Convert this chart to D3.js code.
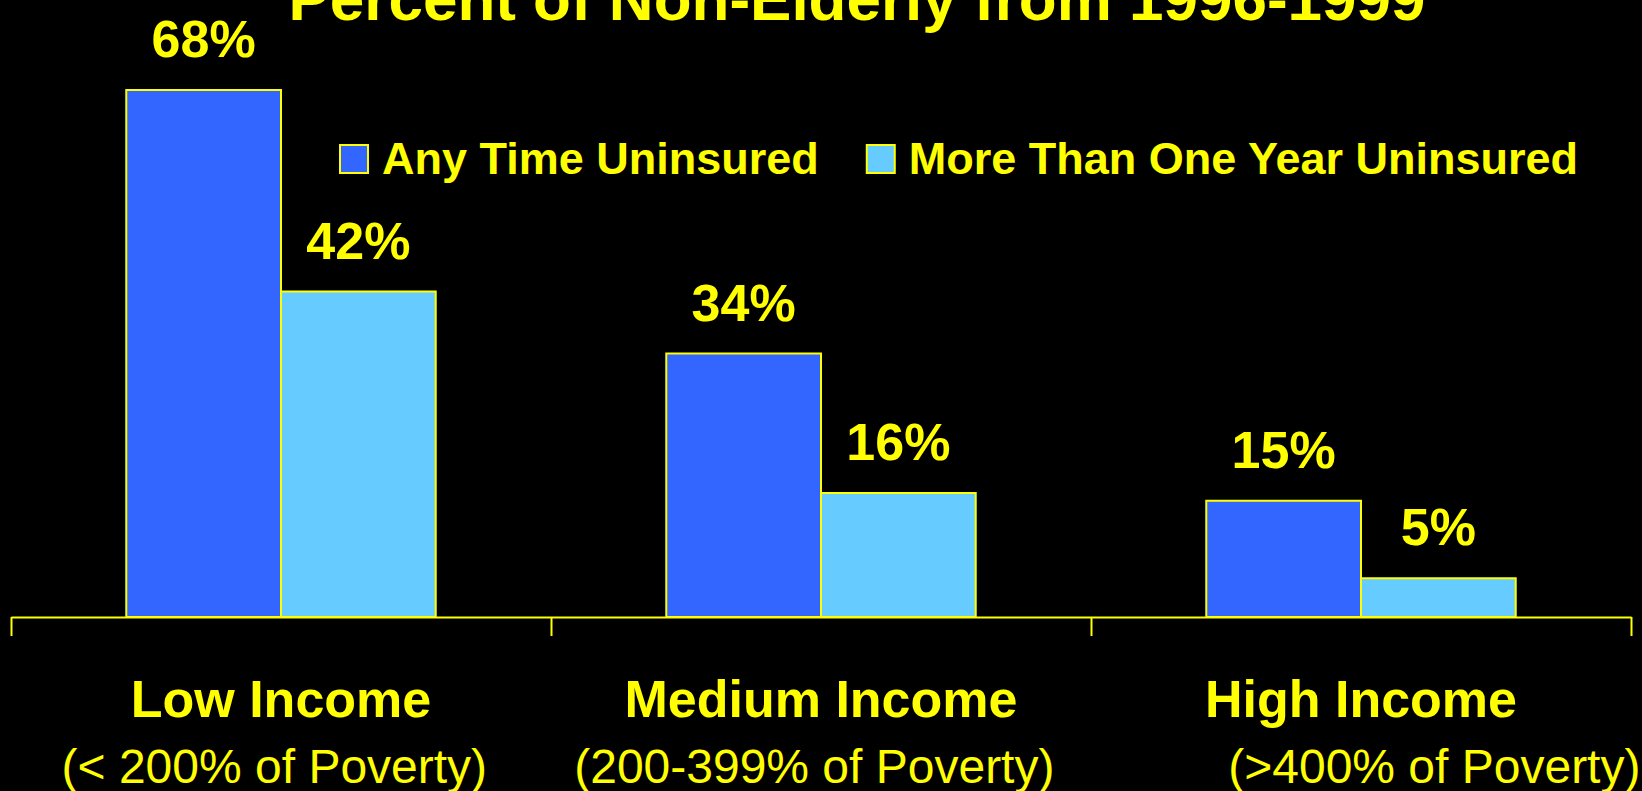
<!DOCTYPE html>
<html>
<head>
<meta charset="utf-8">
<script src="https://cdn.jsdelivr.net/npm/d3@7"></script>
<style>
  html, body { margin: 0; padding: 0; background: #000; overflow: hidden; }
  text { font-family: "Liberation Sans", Arial, sans-serif; fill: #ffff00; white-space: pre; }
</style>
</head>
<body>
<svg></svg>
<script>
const categories = ['Low Income', 'Medium Income', 'High Income'];
const subLabels = ['(< 200% of Poverty) ', '(200-399% of Poverty) ', '           (>400% of Poverty)'];
const seriesNames = ['Any Time Uninsured', 'More Than One Year Uninsured'];
const anyTime = [68, 34, 15];
const moreThanYear = [42, 16, 5];
const titleText = 'Percent of Non-Elderly from 1996-1999';

const width = 1642;
const height = 791;
const left = 11;
const right = 1631;
const baseline = 617;
const colors = ['#3366ff', '#66ccff'];
const yellow = '#ffff00';

let svg = d3.select('svg')
    .attr('width', width)
    .attr('height', height)

svg.append('rect')
    .attr('width', width)
    .attr('height', height)
    .attr('fill', '#000')

let values = categories.map((c, i) => [anyTime[i], moreThanYear[i]]);

let x0 = d3.scaleBand()
    .domain(categories)
    .range([left, right])
    .padding(0)

let x1 = d3.scaleBand()
    .domain(seriesNames)
    .range([0, x0.bandwidth()])
    .paddingInner(0)
    .paddingOuter(0.745)

let y = d3.scaleLinear()
    .domain([0, 80])
    .range([baseline, -3])

// title (cut off at the top like the slide)
svg.append('text')
    .attr('x', 857)
    .attr('y', 20)
    .attr('text-anchor', 'middle')
    .style('font-size', '62px')
    .style('font-weight', 'bold')
    .text(titleText)

let groups = svg.selectAll('g.cat')
    .data(values)
    .enter()
    .append('g')
    .attr('class', 'cat')
    .attr('transform', (d, i) => 'translate(' + x0(categories[i]) + ',0)')

groups.selectAll('rect')
    .data(d => d)
    .enter()
    .append('rect')
    .attr('x', (d, j) => x1(seriesNames[j]))
    .attr('y', d => y(d))
    .attr('width', x1.bandwidth())
    .attr('height', d => y(0) - y(d))
    .attr('fill', (d, j) => colors[j])
    .attr('stroke', yellow)
    .attr('stroke-width', 2)

groups.selectAll('text.val')
    .data(d => d)
    .enter()
    .append('text')
    .attr('class', 'val')
    .attr('x', (d, j) => x1(seriesNames[j]) + x1.bandwidth() / 2)
    .attr('y', d => y(d) - 33)
    .attr('text-anchor', 'middle')
    .style('font-size', '52px')
    .style('font-weight', 'bold')
    .text(d => d + '%')

// axis with ticks at the category boundaries
let edgeScale = d3.scaleLinear()
    .domain([0, categories.length])
    .range([left, right])

let xAxis = d3.axisBottom(edgeScale)
    .tickValues(d3.range(categories.length + 1))
    .tickSize(19)
    .tickSizeOuter(0)
    .tickFormat('')

let axisG = svg.append('g')
    .attr('transform', 'translate(0,' + baseline + ')')
    .call(xAxis)
axisG.selectAll('path, line')
    .attr('stroke', yellow)
    .attr('stroke-width', 2)

svg.selectAll('text.cat')
    .data(categories)
    .enter()
    .append('text')
    .attr('class', 'cat')
    .attr('x', d => x0(d) + x0.bandwidth() / 2)
    .attr('y', 717)
    .attr('text-anchor', 'middle')
    .style('font-size', '52px')
    .style('font-weight', 'bold')
    .text(d => d)

svg.selectAll('text.sub')
    .data(subLabels)
    .enter()
    .append('text')
    .attr('class', 'sub')
    .attr('x', (d, i) => x0(categories[i]) + x0.bandwidth() / 2)
    .attr('y', 783)
    .attr('text-anchor', 'middle')
    .style('font-size', '48px')
    .text(d => d)

// legend
let legend = svg.append('g')
let lx = 340;
seriesNames.forEach((name, j) => {
    legend.append('rect')
        .attr('x', lx)
        .attr('y', 145)
        .attr('width', 28)
        .attr('height', 28)
        .attr('fill', colors[j])
        .attr('stroke', yellow)
        .attr('stroke-width', 2)
    let t = legend.append('text')
        .attr('x', lx + 42)
        .attr('y', 174)
        .style('font-size', '45px')
        .style('font-weight', 'bold')
        .text(name)
    lx = lx + 42 + t.node().getComputedTextLength() + 48;
})
</script>
</body>
</html>
